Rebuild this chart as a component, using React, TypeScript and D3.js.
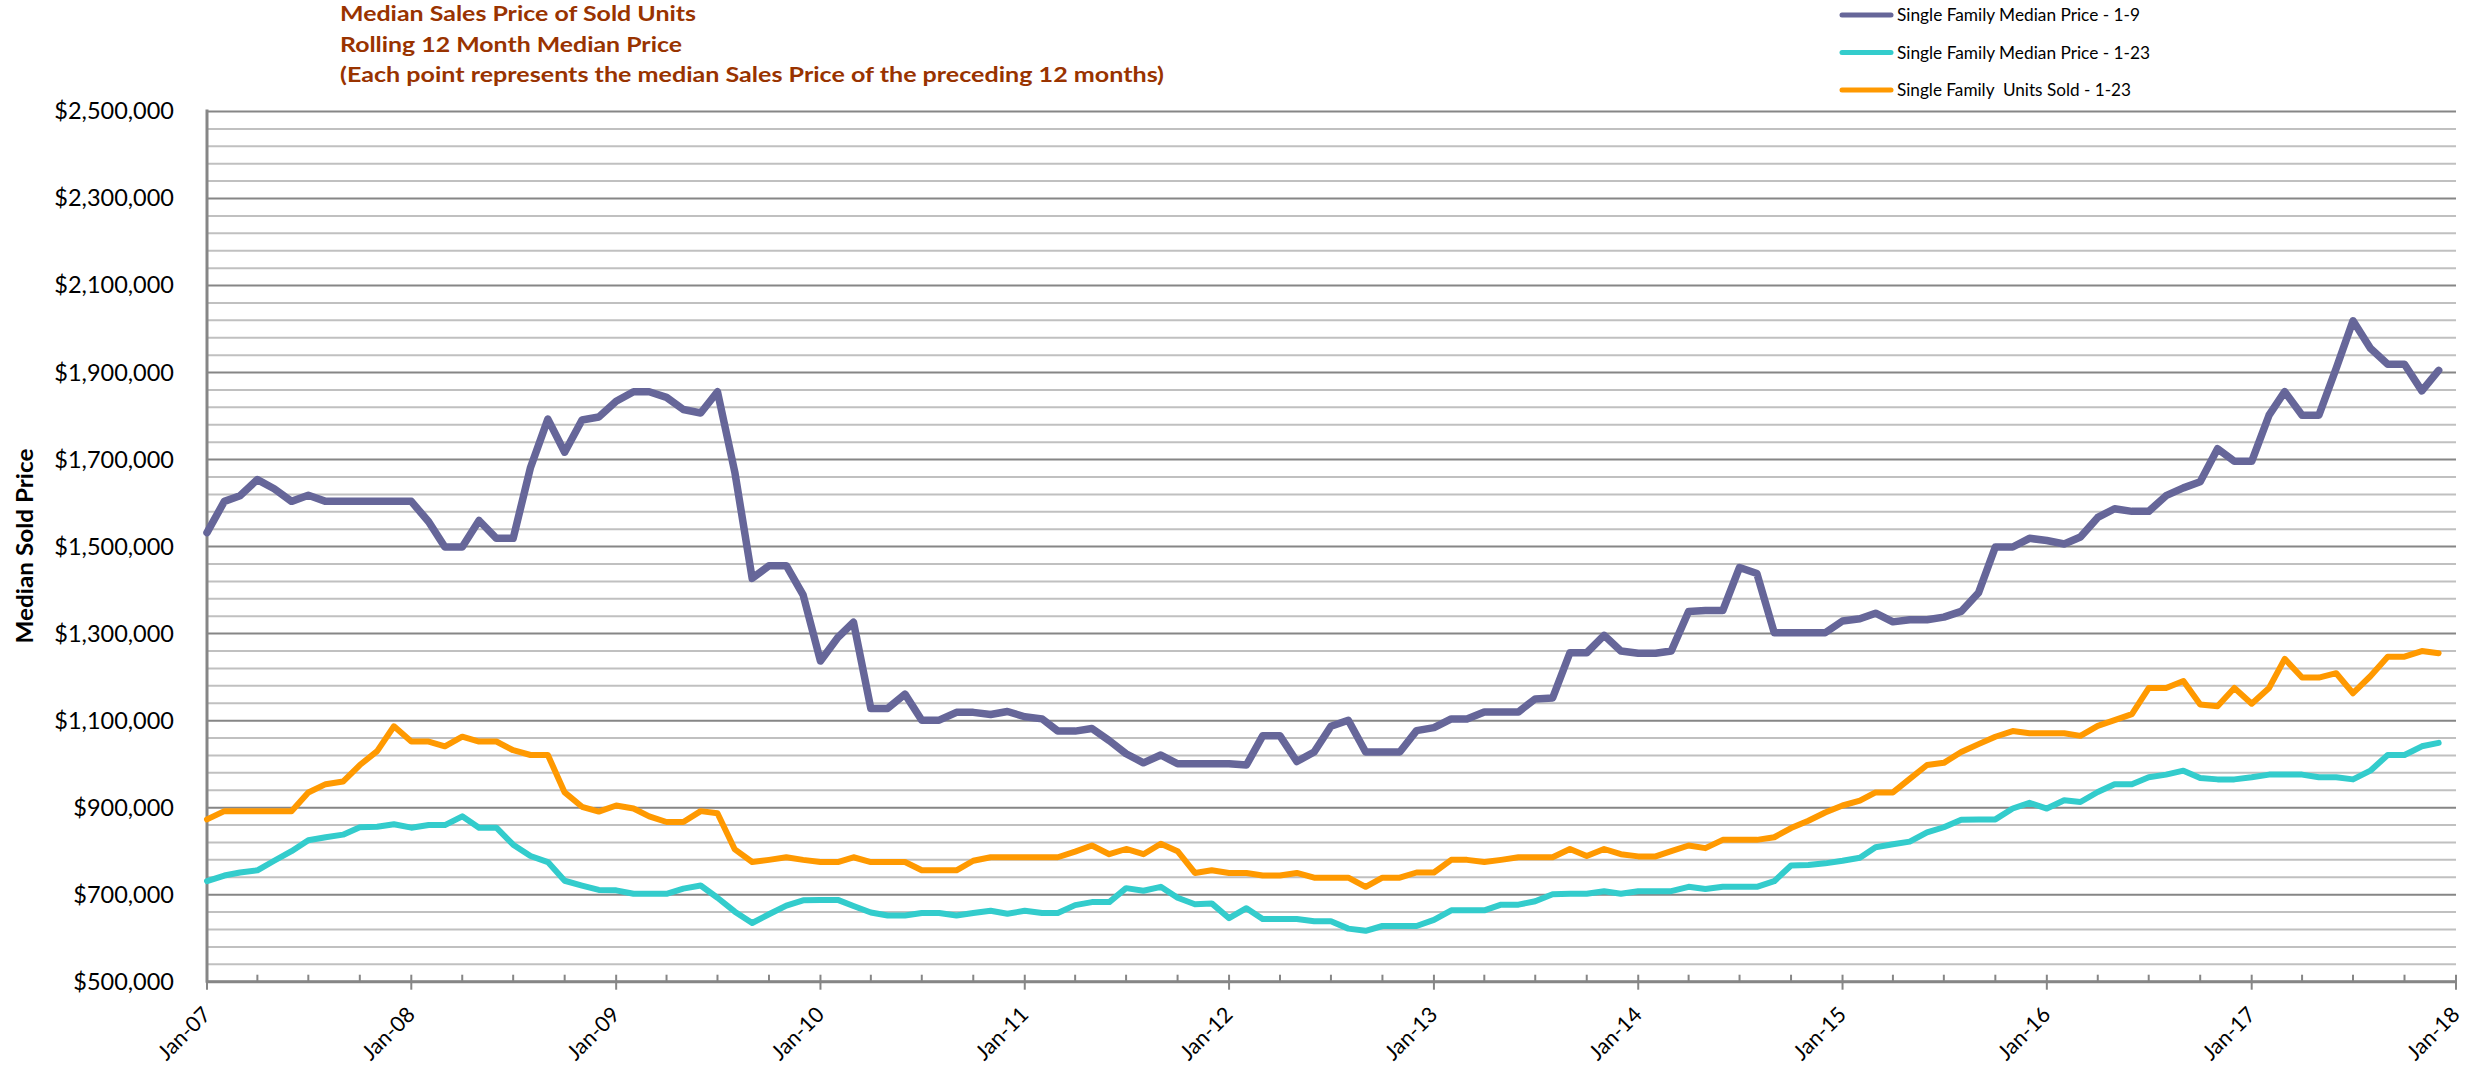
import React from "react";
import * as d3 from "d3";

const WIDTH = 2484;
const HEIGHT = 1069;

// monthly points Jan-07 .. Dec-17, values in thousands of dollars
const months = d3.timeMonth.range(new Date(2007, 0, 1), new Date(2018, 0, 1));

const sfMedian19 = [
  1532, 1604, 1617, 1654, 1633, 1604, 1618, 1604, 1604, 1604, 1604, 1604,
  1604, 1557, 1499, 1499, 1560, 1519, 1519, 1682, 1793, 1717, 1791, 1798,
  1834, 1856, 1856, 1843, 1815, 1807, 1856, 1671, 1427, 1456, 1456, 1389,
  1237, 1291, 1326, 1128, 1128, 1161, 1101, 1101, 1119, 1119, 1114, 1121,
  1109, 1104, 1076, 1076, 1082, 1054, 1024, 1003, 1021, 1001, 1001, 1001,
  1001, 998, 1065, 1065, 1006, 1028, 1087, 1101, 1028, 1028, 1028, 1077,
  1084, 1104, 1104, 1120, 1120, 1120, 1150, 1152, 1256, 1256, 1296, 1260,
  1255, 1255, 1260, 1351, 1353, 1353, 1452, 1438, 1302, 1302, 1302, 1302,
  1329, 1334, 1347, 1327, 1332, 1332, 1338, 1351, 1394, 1499, 1499, 1519,
  1514, 1506, 1522, 1567, 1587, 1581, 1581, 1617, 1635, 1649, 1725, 1696,
  1696, 1802, 1856, 1802, 1802, 1910, 2019, 1956, 1919, 1919, 1858, 1905,
];

const sfMedian123 = [
  731, 744, 751, 756, 778, 800, 825, 832, 838, 855, 856, 862,
  854, 860, 860, 880, 854, 854, 815, 789, 775, 732, 721, 711,
  710, 702, 702, 702, 714, 721, 693, 661, 635, 655, 675, 687,
  688, 688, 674, 659, 652, 652, 658, 658, 652, 658, 663, 656,
  663, 658, 658, 676, 683, 683, 715, 709, 718, 693, 678, 680,
  646, 669, 644, 644, 644, 639, 639, 622, 617, 628, 628, 628,
  642, 664, 664, 664, 677, 677, 685, 701, 702, 702, 708, 702,
  708, 708, 708, 718, 713, 718, 718, 718, 731, 767, 768, 772,
  778, 785, 809, 816, 822, 843, 855, 872, 873, 873, 898, 911,
  898, 917, 913, 936, 954, 954, 970, 976, 985, 968, 965, 965,
  970, 976, 976, 976, 970, 970, 965, 985, 1021, 1021, 1041, 1049,
];

const sfUnits123 = [
  873, 892, 892, 892, 892, 892, 935, 954, 960, 998, 1030, 1087,
  1052, 1052, 1041, 1063, 1052, 1052, 1032, 1021, 1021, 935, 902, 891,
  905, 898, 880, 867, 867, 892, 887, 804, 775, 780, 786, 780,
  775, 775, 786, 775, 775, 775, 756, 756, 756, 778, 786, 786,
  786, 786, 786, 799, 813, 793, 805, 793, 817, 800, 750, 756,
  750, 750, 744, 744, 750, 739, 739, 739, 718, 739, 739, 751,
  751, 780, 780, 775, 780, 786, 786, 786, 805, 789, 805, 793,
  788, 788, 800, 813, 807, 826, 826, 826, 832, 853, 870, 889,
  905, 916, 935, 935, 966, 998, 1003, 1028, 1046, 1063, 1076, 1071,
  1071, 1071, 1065, 1088, 1101, 1115, 1175, 1175, 1191, 1137, 1133, 1175,
  1139, 1175, 1242, 1199, 1199, 1209, 1163, 1202, 1247, 1247, 1260, 1255,
];

const seriesNames = [
  "Single Family Median Price - 1-9",
  "Single Family Median Price - 1-23",
  "Single Family  Units Sold - 1-23",
];
const seriesColors = ["#666699", "#33CCCC", "#FF9900"];
const seriesWidths = [7.5, 6, 6];
const seriesData = [sfMedian19, sfMedian123, sfUnits123];

const xTickLabels = [
  "Jan-07", "Jan-08", "Jan-09", "Jan-10", "Jan-11", "Jan-12",
  "Jan-13", "Jan-14", "Jan-15", "Jan-16", "Jan-17", "Jan-18",
];
const yTicks = d3.range(500000, 2500001, 200000);
const yMinor = d3.range(500000, 2500001, 40000).filter((v) => (v - 500000) % 200000 !== 0);

const titleLines = [
  "Median Sales Price of Sold Units",
  "Rolling 12 Month Median Price",
  "(Each point represents the median Sales Price of the preceding 12 months)",
];
const titleWidths = [356, 342, 824];
const legendWidths = [243, 253, 234];

const FONT = "Lato, 'Open Sans', 'Liberation Sans', sans-serif";

const plot = { left: 207, right: 2456, top: 111.5, bottom: 981.7 };

const App: React.FC = () => {
  const x = d3
    .scaleTime()
    .domain([new Date(2007, 0, 1), new Date(2018, 0, 1)])
    .range([plot.left, plot.right]);
  const y = d3.scaleLinear().domain([500000, 2500000]).range([plot.bottom, plot.top]);

  const line = d3
    .line<number>()
    .x((_, i) => x(months[i]))
    .y((d) => y(d * 1000));

  const yearTicks = d3.timeYear.range(new Date(2007, 0, 1), new Date(2018, 0, 2));
  const quarterTicks = d3
    .timeMonth.every(3)!
    .range(new Date(2007, 0, 1), new Date(2018, 0, 2))
    .filter((d) => d.getMonth() !== 0);

  return (
    <svg
      width={WIDTH}
      height={HEIGHT}
      viewBox={`0 0 ${WIDTH} ${HEIGHT}`}
      style={{ position: "absolute", left: 0, top: 0, display: "block", background: "#fff" }}
    >
      {/* title */}
      {titleLines.map((t, i) => (
        <text
          key={t}
          x={340}
          y={21 + i * 30.5}
          fontFamily={FONT}
          fontWeight="bold"
          fontSize={21}
          fill="#993300"
          textLength={titleWidths[i]}
          lengthAdjust="spacingAndGlyphs"
        >
          {t}
        </text>
      ))}

      {/* legend */}
      {seriesNames.map((name, i) => {
        const ly = 15 + i * 37.5;
        return (
          <g key={name}>
            <line
              x1={1842}
              x2={1891}
              y1={ly}
              y2={ly}
              stroke={seriesColors[i]}
              strokeWidth={5}
              strokeLinecap="round"
            />
            <text
              x={1897}
              y={ly + 6}
              fontFamily={FONT}
              fontSize={17}
              fill="#000"
              textLength={legendWidths[i]}
              lengthAdjust="spacingAndGlyphs"
              style={{ whiteSpace: "pre" }}
            >
              {name}
            </text>
          </g>
        );
      })}

      {/* gridlines */}
      {yMinor.map((v) => (
        <line key={`mn${v}`} x1={plot.left} x2={plot.right} y1={y(v)} y2={y(v)} stroke="#c0c0c0" strokeWidth={2} />
      ))}
      {yTicks.map((v) => (
        <line key={`mj${v}`} x1={plot.left} x2={plot.right} y1={y(v)} y2={y(v)} stroke="#868686" strokeWidth={2} />
      ))}

      {/* y axis labels */}
      {yTicks.map((v) => (
        <text
          key={`yl${v}`}
          x={174}
          y={y(v) + 2}
          textAnchor="end"
          dominantBaseline="middle"
          fontFamily={FONT}
          fontSize={23.5}
          fill="#000"
        >
          {d3.format("$,")(v)}
        </text>
      ))}
      <text
        transform={`translate(33, 546) rotate(-90)`}
        textAnchor="middle"
        fontFamily={FONT}
        fontWeight="bold"
        fontSize={22}
        fill="#000"
        textLength={195}
        lengthAdjust="spacingAndGlyphs"
      >
        Median Sold Price
      </text>

      {/* axes */}
      <line x1={plot.left} x2={plot.left} y1={plot.top - 2} y2={plot.bottom + 1} stroke="#868686" strokeWidth={3} />
      <line x1={plot.left} x2={plot.right} y1={plot.bottom} y2={plot.bottom} stroke="#868686" strokeWidth={3} />
      {quarterTicks.map((d) => (
        <line key={`q${+d}`} x1={x(d)} x2={x(d)} y1={plot.bottom - 7} y2={plot.bottom} stroke="#868686" strokeWidth={2} />
      ))}
      {yearTicks.map((d) => (
        <line key={`yr${+d}`} x1={x(d)} x2={x(d)} y1={plot.bottom - 7} y2={plot.bottom + 8} stroke="#868686" strokeWidth={2} />
      ))}
      {yearTicks.map((d, i) => (
        <text
          key={`xl${+d}`}
          transform={`translate(${x(d) + 5}, 1016) rotate(-45)`}
          textAnchor="end"
          fontFamily={FONT}
          fontSize={21.5}
          fill="#000"
        >
          {xTickLabels[i]}
        </text>
      ))}

      {/* series */}
      {seriesData.map((data, i) => (
        <path
          key={seriesNames[i]}
          d={line(data) || ""}
          fill="none"
          stroke={seriesColors[i]}
          strokeWidth={seriesWidths[i]}
          strokeLinejoin="round"
          strokeLinecap="round"
        />
      ))}
    </svg>
  );
};

export default App;
